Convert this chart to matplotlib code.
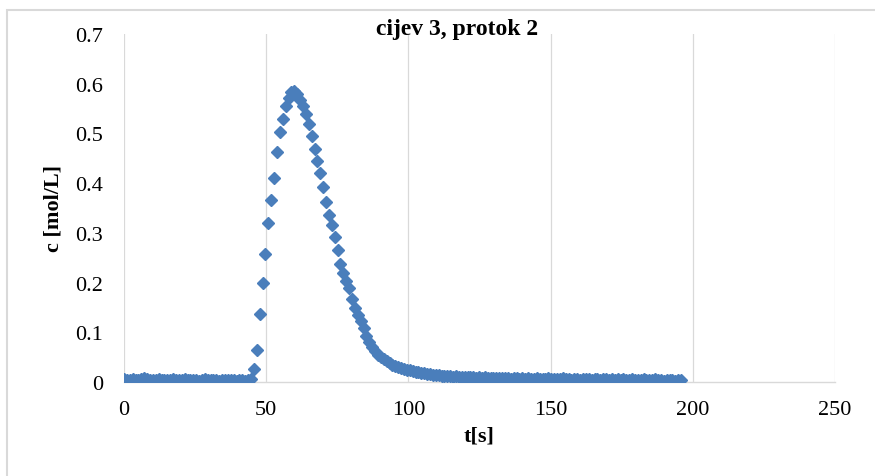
import numpy as np
import matplotlib.pyplot as plt
from matplotlib.patches import Rectangle

# concentration readings, one every ~1 s
baseline = [0.007, 0.005, 0.004, 0.006, 0.005, 0.004, 0.006, 0.008, 0.006, 0.005,
            0.004, 0.005, 0.006, 0.004, 0.005, 0.004, 0.005, 0.006, 0.004, 0.005,
            0.004, 0.006, 0.005, 0.004, 0.005, 0.004, 0.003, 0.005, 0.006, 0.004,
            0.005, 0.004, 0.005, 0.003, 0.004, 0.005, 0.004, 0.005, 0.004, 0.003,
            0.005, 0.004, 0.003, 0.005, 0.007]
rise = [0.026, 0.065, 0.137, 0.200, 0.258, 0.320, 0.367, 0.410, 0.463,
        0.502, 0.530, 0.555, 0.572, 0.583, 0.586]
fall = [0.580, 0.568, 0.556, 0.540, 0.518, 0.495, 0.468, 0.445, 0.421, 0.393,
        0.362, 0.336, 0.316, 0.292, 0.266, 0.238, 0.220, 0.203, 0.190, 0.167]
decay = [0.149, 0.135, 0.122, 0.108, 0.092, 0.080, 0.070, 0.062, 0.055, 0.050,
         0.046, 0.042, 0.038, 0.035, 0.033, 0.031, 0.029, 0.027, 0.025, 0.024,
         0.022, 0.021, 0.020, 0.019, 0.018, 0.017, 0.016, 0.015, 0.014, 0.014]
tail = [0.013, 0.012, 0.013, 0.012, 0.011, 0.012, 0.011, 0.010, 0.011, 0.010,
        0.010, 0.011, 0.009, 0.010, 0.009, 0.010, 0.009, 0.008, 0.009, 0.008,
        0.009, 0.008, 0.008, 0.009, 0.007, 0.008, 0.008, 0.007, 0.008, 0.007,
        0.008, 0.007, 0.006, 0.008, 0.007, 0.006, 0.007, 0.008, 0.006, 0.007,
        0.006, 0.007, 0.008, 0.006, 0.007, 0.005, 0.007, 0.006, 0.005, 0.006,
        0.007, 0.006, 0.005, 0.006, 0.007, 0.005, 0.006, 0.007, 0.005, 0.006,
        0.005, 0.006, 0.004, 0.006, 0.005, 0.004, 0.006, 0.005, 0.004, 0.005,
        0.006, 0.004, 0.005, 0.004, 0.006, 0.004, 0.005, 0.003, 0.005, 0.004,
        0.005, 0.003, 0.004, 0.005]

c = np.array(baseline + rise + fall + decay + tail)
dt = 1.015  # sampling interval [s]
t = np.arange(len(c)) * dt

x_ticks = [0, 50, 100, 150, 200, 250]
y_ticks = [0, 0.1, 0.2, 0.3, 0.4, 0.5, 0.6, 0.7]
y_labels = ['0', '0.1', '0.2', '0.3', '0.4', '0.5', '0.6', '0.7']

plt.rcParams['font.family'] = ['Liberation Serif', 'DejaVu Serif']

fig = plt.figure(figsize=(8.75, 4.77), dpi=100)
ax = fig.add_axes([124 / 875, 1 - 383 / 477, 711 / 875, 348 / 477])

ax.plot(t, c, linestyle='none', marker='D', markersize=6,
        color='#4A7EBB', markeredgecolor='#4A7EBB', zorder=3)

ax.set_xlim(0, 250)
ax.set_ylim(0, 0.7)
ax.set_xticks(x_ticks)
ax.set_xticklabels([str(v) for v in x_ticks])
ax.set_yticks(y_ticks)
ax.set_yticklabels(y_labels)
ax.tick_params(axis='both', length=0, labelsize=16, colors='#000000')
ax.tick_params(axis='y', pad=15)
ax.tick_params(axis='x', pad=13)

ax.grid(axis='x', color='#D9D9D9', linewidth=0.9)
ax.grid(axis='y', visible=False)
ax.set_axisbelow(True)
for side in ['left', 'right', 'top']:
    ax.spines[side].set_visible(False)
ax.spines['bottom'].set_color('#D9D9D9')
ax.spines['bottom'].set_linewidth(1.0)

ax.set_xlabel('t[s]', fontsize=16, fontweight='bold')
ax.xaxis.set_label_coords(0.5, -0.125)
ax.set_ylabel('c [mol/L]', fontsize=16, fontweight='bold')
ax.yaxis.set_label_coords(-0.085, 0.5)

fig.text(457 / 875, 1 - 30 / 477, 'cijev 3, protok 2', fontsize=17,
         fontweight='bold', ha='center', va='center')

# outer chart border
fig.add_artist(Rectangle((7 / 875, -0.1), 1.2, 1.1 - 11 / 477,
                         transform=fig.transFigure, fill=False,
                         edgecolor='#D9D9D9', linewidth=1.5))

fig.savefig('out.png', dpi=100)
